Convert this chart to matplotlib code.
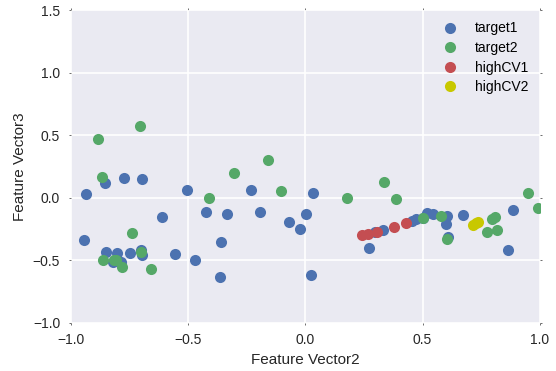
import matplotlib
matplotlib.use('Agg')
import matplotlib.pyplot as plt

# --- point data (Feature Vector2, Feature Vector3) ---
target1_x = [-0.935, -0.943, -0.853, -0.773, -0.696, -0.503, -0.611, -0.85, -0.804,
             -0.818, -0.787, -0.747, -0.699, -0.696, -0.554, -0.423, -0.334, -0.23,
             -0.192, -0.071, -0.023, 0.002, -0.358, -0.469, -0.364, 0.033, 0.026,
             0.272, 0.296, 0.333, 0.453, 0.472, 0.50, 0.517, 0.543, 0.603, 0.60,
             0.608, 0.673, 0.885, 0.865]
target1_y = [0.03, -0.34, 0.12, 0.155, 0.15, 0.064, -0.15, -0.43, -0.44,
             -0.51, -0.51, -0.44, -0.42, -0.46, -0.45, -0.11, -0.13, 0.06,
             -0.11, -0.19, -0.25, -0.128, -0.35, -0.50, -0.63, 0.037, -0.62,
             -0.40, -0.27, -0.254, -0.185, -0.17, -0.16, -0.12, -0.13, -0.147, -0.21,
             -0.315, -0.134, -0.10, -0.416]

target2_x = [-0.882, -0.706, -0.868, -0.739, -0.861, -0.813, -0.806, -0.78, -0.699,
             -0.658, -0.412, -0.304, -0.158, -0.102, 0.18, 0.337, 0.388, 0.50,
             0.58, 0.605, 0.796, 0.81, 0.776, 0.816, 0.948, 0.99]
target2_y = [0.47, 0.576, 0.17, -0.28, -0.496, -0.496, -0.50, -0.55, -0.43,
             -0.57, -0.003, 0.20, 0.30, 0.056, 0.0, 0.128, -0.008, -0.165,
             -0.144, -0.326, -0.17, -0.155, -0.27, -0.254, 0.037, -0.083]

highcv1_x = [0.242, 0.269, 0.304, 0.377, 0.43]
highcv1_y = [-0.30, -0.29, -0.27, -0.232, -0.203]

highcv2_x = [0.716, 0.727, 0.737]
highcv2_y = [-0.214, -0.205, -0.195]

plt.rcParams['font.family'] = ['Liberation Sans', 'DejaVu Sans']

fig = plt.figure(figsize=(5.56, 3.71), dpi=100)
ax = fig.add_axes([0.127, 0.130, 0.844, 0.842])
ax.set_facecolor('#EAEAF2')
ax.set_axisbelow(True)
ax.grid(True, color='white', linewidth=1.2)
for s in ax.spines.values():
    s.set_visible(False)

ms = 8
ax.plot(target1_x, target1_y, 'o', color='#4C72B0', ms=ms, mec='none', label='target1')
ax.plot(target2_x, target2_y, 'o', color='#55A868', ms=ms, mec='none', label='target2')
ax.plot(highcv1_x, highcv1_y, 'o', color='#C44E52', ms=ms, mec='none', label='highCV1')
ax.plot(highcv2_x, highcv2_y, 'o', color='#C8C800', ms=ms, mec='none', label='highCV2')

ax.set_xlim(-1.0, 1.0)
ax.set_ylim(-1.0, 1.5)
ax.set_xticks([-1.0, -0.5, 0.0, 0.5, 1.0])
ax.set_yticks([-1.0, -0.5, 0.0, 0.5, 1.0, 1.5])
ax.tick_params(which='both', length=1.5, width=0.6, color='#555555', labelsize=10,
               labelcolor='#262626', pad=6, top=True, right=True)

ax.set_xlabel('Feature Vector2', fontsize=11, color='#262626')
ax.set_ylabel('Feature Vector3', fontsize=11, color='#262626')

ax.legend(loc='upper right', numpoints=1, frameon=False, fontsize=10,
          handletextpad=0.8, labelspacing=0.4, borderaxespad=0.4)

fig.savefig('out.png', dpi=100)
